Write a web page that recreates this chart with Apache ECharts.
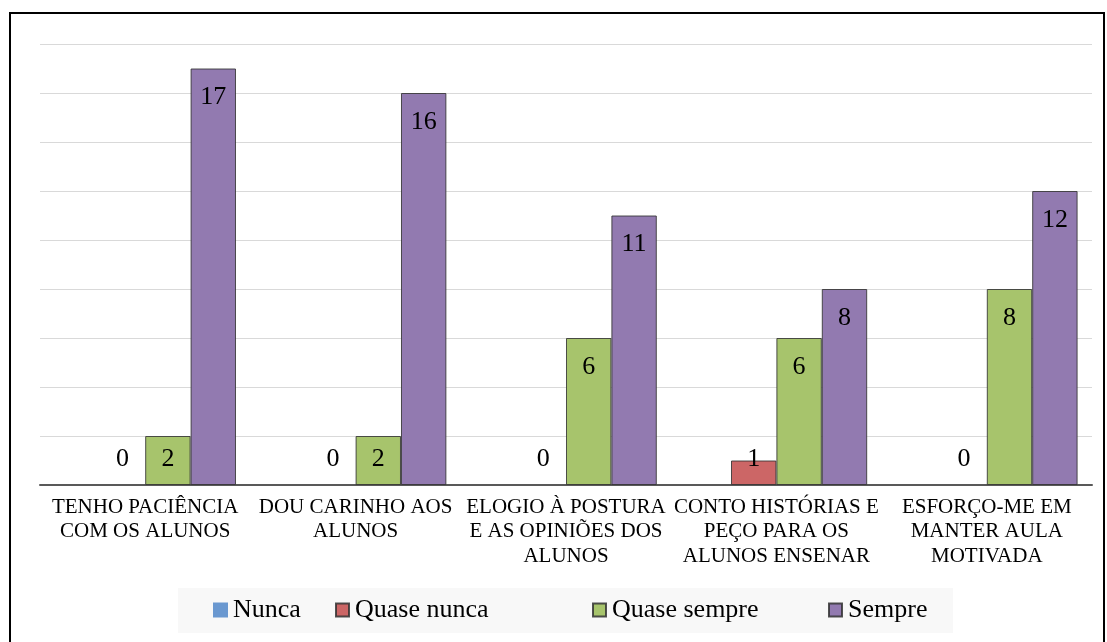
<!DOCTYPE html>
<html>
<head>
<meta charset="utf-8">
<script src="https://cdn.jsdelivr.net/npm/echarts@6/dist/echarts.min.js"></script>
<style>
  html, body { margin: 0; padding: 0; background: #fff; }
  #chart { width: 1107px; height: 642px; }
</style>
</head>
<body>
<div id="chart"></div>
<script>
// categorias (eixo x)
var categories = [
  'TENHO PACIÊNCIA\nCOM OS ALUNOS',
  'DOU CARINHO AOS\nALUNOS',
  'ELOGIO À POSTURA\nE AS OPINIÕES DOS\nALUNOS',
  'CONTO HISTÓRIAS E\nPEÇO PARA OS\nALUNOS ENSENAR',
  'ESFORÇO-ME EM\nMANTER AULA\nMOTIVADA'
];
var seriesNames = ['Nunca', 'Quase nunca', 'Quase sempre', 'Sempre'];
var nunca = [null, null, null, null, null];
var quaseNunca = [0, 0, 0, 1, 0];
var quaseSempre = [2, 2, 6, 6, 8];
var sempre = [17, 16, 11, 8, 12];
var yMax = 18;
var yStep = 2;

var colors = ['#6a98d0', '#cc6666', '#a7c46c', '#927ab0'];
var serif = "'Liberation Serif', 'Times New Roman', serif";

// altura do grid em px / unidade (para posicionar os rótulos como no Excel)
var plotTop = 44, plotBottom = 157;
var unit = (642 - plotTop - plotBottom) / yMax;

function withLabel(arr) {
  return arr.map(function (v) {
    if (v == null) return null;
    var h = v * unit;
    var label = h >= 55
      ? { position: 'insideTop', distance: 16 }
      : { position: 'top', distance: 13 - h };
    var item = { value: v, label: label };
    if (v === 0) item.itemStyle = { borderWidth: 0 };
    return item;
  });
}

function bar(name, data, color, border) {
  return {
    name: name,
    type: 'bar',
    barGap: '0%',
    barCategoryGap: '13.7%',
    data: withLabel(data),
    itemStyle: {
      color: color,
      borderColor: border ? 'rgba(50,50,50,0.85)' : color,
      borderWidth: 1
    },
    label: {
      show: true,
      color: '#000',
      fontFamily: serif,
      fontSize: 26
    }
  };
}

function legendAt(name, left) {
  return {
    data: [name],
    left: left,
    top: 597,
    padding: 0,
    icon: 'rect',
    itemWidth: 13,
    itemHeight: 13,
    textStyle: { fontFamily: serif, fontSize: 26, color: '#000', padding: [0, 0, 0, 1] }
  };
}

var myChart = echarts.init(document.getElementById('chart'));
myChart.setOption({
  animation: false,
  backgroundColor: '#fff',
  textStyle: { fontFamily: serif },
  graphic: [
    {
      type: 'rect',
      z: -10,
      shape: { x: 178, y: 588, width: 775, height: 45 },
      style: { fill: '#f8f8f8' }
    },
    {
      type: 'rect',
      z: 10,
      shape: { x: 10, y: 13, width: 1094, height: 650 },
      style: { fill: 'none', stroke: '#000', lineWidth: 2 }
    }
  ],
  legend: [
    legendAt(seriesNames[0], 213),
    legendAt(seriesNames[1], 335),
    legendAt(seriesNames[2], 592),
    legendAt(seriesNames[3], 828)
  ],
  grid: { left: 40, right: 15, top: plotTop, bottom: plotBottom },
  xAxis: {
    type: 'category',
    data: categories,
    axisTick: { show: false },
    axisLine: { lineStyle: { color: '#595959', width: 2 } },
    axisLabel: {
      interval: 0,
      margin: 10,
      color: '#000',
      fontFamily: serif,
      fontSize: 21,
      lineHeight: 24.5
    }
  },
  yAxis: {
    type: 'value',
    min: 0,
    max: yMax,
    interval: yStep,
    axisLabel: { show: false },
    axisLine: { show: false },
    axisTick: { show: false },
    splitLine: { lineStyle: { color: '#d9d9d9', width: 1 } }
  },
  series: [
    bar(seriesNames[0], nunca, colors[0], false),
    bar(seriesNames[1], quaseNunca, colors[1], true),
    bar(seriesNames[2], quaseSempre, colors[2], true),
    bar(seriesNames[3], sempre, colors[3], true)
  ]
});
</script>
</body>
</html>
